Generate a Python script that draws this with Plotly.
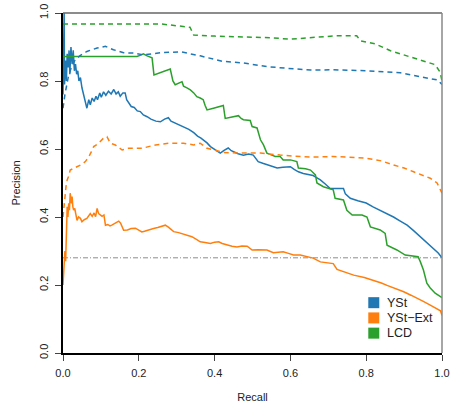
import plotly.graph_objects as go

# (recall, precision) points
yst_solid = [(0.000, 0.76), (0.003, 1.00), (0.004, 0.79), (0.007, 0.86), (0.009, 0.80), (0.011, 0.88), (0.014, 0.84),
             (0.016, 0.89), (0.018, 0.82), (0.021, 0.90), (0.024, 0.85), (0.027, 0.89), (0.030, 0.83), (0.033, 0.85),
             (0.036, 0.82), (0.039, 0.83), (0.042, 0.80), (0.046, 0.81), (0.050, 0.78), (0.054, 0.76), (0.058, 0.735),
             (0.063, 0.72), (0.068, 0.745), (0.072, 0.73), (0.077, 0.75), (0.082, 0.74), (0.087, 0.755), (0.091, 0.745),
             (0.097, 0.765), (0.101, 0.752), (0.107, 0.768), (0.113, 0.758), (0.120, 0.770), (0.127, 0.762), (0.134, 0.775),
             (0.140, 0.762), (0.146, 0.768), (0.151, 0.755), (0.158, 0.765), (0.164, 0.765), (0.168, 0.745), (0.174, 0.735),
             (0.180, 0.725), (0.188, 0.722), (0.196, 0.712), (0.204, 0.71), (0.212, 0.70), (0.222, 0.695), (0.232, 0.688),
             (0.245, 0.682), (0.257, 0.68), (0.268, 0.688), (0.278, 0.692), (0.285, 0.682), (0.296, 0.676), (0.306, 0.672),
             (0.314, 0.668), (0.322, 0.662), (0.332, 0.658), (0.345, 0.648), (0.355, 0.638), (0.364, 0.632), (0.371, 0.627),
             (0.380, 0.618), (0.389, 0.607), (0.398, 0.600), (0.407, 0.594), (0.415, 0.588), (0.425, 0.596), (0.436, 0.603),
             (0.444, 0.595), (0.452, 0.590), (0.462, 0.586), (0.476, 0.582), (0.490, 0.585), (0.502, 0.582), (0.508, 0.572),
             (0.515, 0.563), (0.527, 0.558), (0.539, 0.553), (0.552, 0.548), (0.565, 0.544), (0.580, 0.546), (0.600, 0.548),
             (0.610, 0.540), (0.621, 0.533), (0.634, 0.528), (0.647, 0.524), (0.660, 0.522), (0.669, 0.516), (0.679, 0.509),
             (0.692, 0.497), (0.705, 0.484), (0.722, 0.484), (0.740, 0.484), (0.745, 0.468), (0.758, 0.455), (0.778, 0.448),
             (0.800, 0.441), (0.818, 0.430), (0.837, 0.420), (0.855, 0.410), (0.872, 0.400), (0.890, 0.388), (0.908, 0.376),
             (0.925, 0.360), (0.943, 0.342), (0.960, 0.326), (0.978, 0.308), (0.990, 0.294), (1.000, 0.280)]

ystext_solid = [(0.000, 0.20), (0.003, 0.25), (0.005, 0.30), (0.007, 0.27), (0.009, 0.37), (0.011, 0.43), (0.013, 0.40),
                (0.015, 0.44), (0.017, 0.42), (0.019, 0.47), (0.022, 0.44), (0.024, 0.46), (0.026, 0.43), (0.028, 0.42),
                (0.031, 0.425), (0.034, 0.40), (0.037, 0.39), (0.041, 0.40), (0.046, 0.396), (0.050, 0.386), (0.056, 0.392),
                (0.063, 0.396), (0.068, 0.404), (0.072, 0.41), (0.077, 0.402), (0.082, 0.412), (0.086, 0.401), (0.090, 0.425),
                (0.094, 0.41), (0.098, 0.406), (0.103, 0.402), (0.108, 0.406), (0.112, 0.376), (0.118, 0.378), (0.124, 0.374),
                (0.130, 0.377), (0.138, 0.382), (0.147, 0.388), (0.152, 0.382), (0.156, 0.370), (0.160, 0.361), (0.170, 0.362),
                (0.180, 0.366), (0.191, 0.367), (0.200, 0.362), (0.208, 0.356), (0.215, 0.358), (0.225, 0.362), (0.239, 0.366),
                (0.250, 0.369), (0.262, 0.372), (0.270, 0.376), (0.278, 0.370), (0.285, 0.362), (0.292, 0.357), (0.305, 0.354),
                (0.318, 0.349), (0.327, 0.347), (0.340, 0.342), (0.352, 0.334), (0.362, 0.327), (0.375, 0.325), (0.389, 0.322),
                (0.400, 0.326), (0.411, 0.327), (0.420, 0.322), (0.433, 0.317), (0.446, 0.314), (0.459, 0.312), (0.472, 0.315),
                (0.486, 0.314), (0.499, 0.303), (0.515, 0.304), (0.538, 0.303), (0.555, 0.295), (0.570, 0.297), (0.581, 0.298),
                (0.595, 0.293), (0.608, 0.288), (0.626, 0.288), (0.644, 0.284), (0.660, 0.279), (0.679, 0.268), (0.695, 0.265),
                (0.713, 0.263), (0.723, 0.246), (0.745, 0.237), (0.767, 0.229), (0.795, 0.222), (0.820, 0.214), (0.840, 0.206),
                (0.855, 0.199), (0.878, 0.190), (0.899, 0.180), (0.918, 0.170), (0.934, 0.160), (0.952, 0.151), (0.969, 0.141),
                (0.985, 0.132), (0.996, 0.124), (1.000, 0.110)]

lcd_solid = [(0.000, 0.872), (0.195, 0.872), (0.205, 0.876), (0.212, 0.880), (0.222, 0.874), (0.235, 0.868), (0.240, 0.818),
             (0.257, 0.824), (0.283, 0.835), (0.290, 0.800), (0.296, 0.789), (0.314, 0.798), (0.318, 0.785), (0.327, 0.780),
             (0.336, 0.774), (0.345, 0.765), (0.353, 0.754), (0.362, 0.750), (0.370, 0.745), (0.375, 0.728), (0.380, 0.715),
             (0.397, 0.720), (0.423, 0.728), (0.428, 0.690), (0.445, 0.694), (0.463, 0.698), (0.470, 0.690), (0.476, 0.686),
             (0.494, 0.684), (0.499, 0.666), (0.512, 0.662), (0.517, 0.645), (0.521, 0.627), (0.529, 0.612), (0.533, 0.600),
             (0.538, 0.588), (0.551, 0.582), (0.560, 0.578), (0.573, 0.578), (0.581, 0.568), (0.600, 0.568), (0.617, 0.563),
             (0.621, 0.544), (0.640, 0.542), (0.653, 0.538), (0.666, 0.524), (0.670, 0.500), (0.687, 0.489), (0.713, 0.480),
             (0.718, 0.455), (0.740, 0.450), (0.749, 0.420), (0.763, 0.406), (0.789, 0.406), (0.802, 0.400), (0.811, 0.371),
             (0.837, 0.362), (0.850, 0.352), (0.855, 0.317), (0.881, 0.303), (0.903, 0.288), (0.937, 0.283), (0.943, 0.268),
             (0.951, 0.244), (0.960, 0.205), (0.969, 0.191), (0.982, 0.176), (0.992, 0.170), (1.000, 0.163)]

yst_dashed = [(0.000, 0.72), (0.005, 0.76), (0.014, 0.812), (0.022, 0.84), (0.032, 0.862), (0.045, 0.875), (0.063, 0.887),
              (0.090, 0.897), (0.112, 0.902), (0.133, 0.892), (0.160, 0.883), (0.185, 0.882), (0.212, 0.877), (0.257, 0.883),
              (0.310, 0.886), (0.362, 0.874), (0.420, 0.858), (0.476, 0.853), (0.539, 0.842), (0.600, 0.836), (0.653, 0.832),
              (0.713, 0.833), (0.800, 0.830), (0.890, 0.824), (0.943, 0.813), (0.988, 0.803), (1.000, 0.790)]

ystext_dashed = [(0.000, 0.40), (0.004, 0.46), (0.008, 0.49), (0.011, 0.509), (0.015, 0.52), (0.019, 0.538), (0.028, 0.543),
                 (0.041, 0.548), (0.050, 0.555), (0.059, 0.563), (0.068, 0.577), (0.075, 0.592), (0.081, 0.607), (0.094, 0.617),
                 (0.107, 0.632), (0.116, 0.636), (0.125, 0.617), (0.138, 0.612), (0.156, 0.597), (0.173, 0.602), (0.208, 0.602),
                 (0.244, 0.612), (0.279, 0.617), (0.318, 0.617), (0.345, 0.612), (0.362, 0.617), (0.380, 0.602), (0.423, 0.590),
                 (0.459, 0.588), (0.521, 0.588), (0.573, 0.582), (0.653, 0.576), (0.713, 0.578), (0.800, 0.573), (0.840, 0.565),
                 (0.872, 0.553), (0.900, 0.544), (0.925, 0.533), (0.950, 0.522), (0.969, 0.514), (0.987, 0.500), (1.000, 0.470)]

lcd_dashed = [(0.000, 0.968), (0.257, 0.968), (0.335, 0.958), (0.345, 0.935), (0.400, 0.932), (0.476, 0.930), (0.550, 0.927),
              (0.600, 0.923), (0.660, 0.928), (0.720, 0.933), (0.775, 0.933), (0.785, 0.918), (0.824, 0.909), (0.864, 0.889),
              (0.890, 0.880), (0.920, 0.870), (0.943, 0.862), (0.982, 0.848), (0.995, 0.826), (1.000, 0.800)]

baseline = 0.28
legend_names = ["YSt", "YSt\u2212Ext", "LCD"]
colors = {"YSt": "#1f77b4", "YSt\u2212Ext": "#ff7f0e", "LCD": "#2ca02c"}

fig = go.Figure()

def add_curve(points, color, dash, name):
    fig.add_trace(go.Scatter(x=[p[0] for p in points], y=[p[1] for p in points], mode="lines", name=name,
                             line=dict(color=color, width=1.5, dash=dash), showlegend=False, hoverinfo="skip"))

fig.add_trace(go.Scatter(x=[0, 1], y=[baseline, baseline], mode="lines", name="baseline",
                         line=dict(color="#707070", width=0.8, dash="5px,2px,1px,2px"), showlegend=False))
add_curve(yst_solid, colors["YSt"], "solid", "YSt")
add_curve(ystext_solid, colors["YSt\u2212Ext"], "solid", "YSt\u2212Ext")
add_curve(lcd_solid, colors["LCD"], "solid", "LCD")
add_curve(yst_dashed, colors["YSt"], "5px,4px", "YSt")
add_curve(ystext_dashed, colors["YSt\u2212Ext"], "5px,4px", "YSt\u2212Ext")
add_curve(lcd_dashed, colors["LCD"], "5px,4px", "LCD")

# frame: gray top and right borders
fig.add_shape(type="line", xref="paper", yref="paper", x0=0, x1=1, y0=1, y1=1, line=dict(color="#666666", width=1.5))
fig.add_shape(type="line", xref="paper", yref="paper", x0=1, x1=1, y0=0, y1=1, line=dict(color="#888888", width=1.5))

# compact legend (square key + label), placed in paper coordinates
LEG_X0, LEG_SQ_W, LEG_TEXT_X = 0.8055, 0.029, 0.849
LEG_Y_TOP, LEG_ROW, LEG_HALF = 0.148, 0.0448, 0.0162
for i, name in enumerate(legend_names):
    yc = LEG_Y_TOP - i * LEG_ROW
    fig.add_shape(type="rect", xref="paper", yref="paper", x0=LEG_X0, x1=LEG_X0 + LEG_SQ_W,
                  y0=yc - LEG_HALF, y1=yc + LEG_HALF, line=dict(width=0), fillcolor=colors[name])
    fig.add_annotation(xref="paper", yref="paper", x=LEG_TEXT_X, y=yc, text=name, showarrow=False,
                       xanchor="left", yanchor="middle", font=dict(size=12.5, color="#222222"))

font = "Liberation Sans, Arial, sans-serif"
fig.update_layout(
    width=451, height=409,
    margin=dict(l=63, r=9, t=13, b=56, autoexpand=False),
    paper_bgcolor="white", plot_bgcolor="white",
    font=dict(family=font, size=11, color="#222222"),
    showlegend=False,
)
fig.update_xaxes(range=[0, 1], tickvals=[0, 0.2, 0.4, 0.6, 0.8, 1.0], tickformat=".1f", automargin=False,
                 showgrid=False, zeroline=False, showline=True, linecolor="black", linewidth=1.5,
                 ticks="outside", ticklen=6, tickcolor="#444444", tickwidth=1.2, ticklabelstandoff=3,
                 title=dict(text="Recall", font=dict(size=11)))
fig.update_yaxes(range=[0, 1], tickvals=[0, 0.2, 0.4, 0.6, 0.8, 1.0], tickformat=".1f", tickangle=-90, automargin=False,
                 showgrid=False, zeroline=False, showline=True, linecolor="black", linewidth=1.5,
                 ticks="outside", ticklen=6, tickcolor="#444444", tickwidth=1.2, ticklabelstandoff=3,
                 title=dict(text="Precision", font=dict(size=11)))

fig.write_html("out.html", config={"displayModeBar": False},
               post_script="document.body.style.margin='0px';document.body.style.overflow='hidden';")
